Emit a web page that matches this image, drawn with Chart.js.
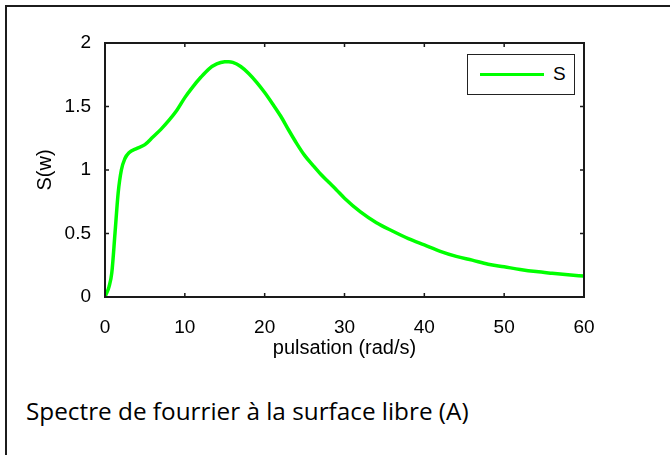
<!DOCTYPE html>
<html>
<head>
<meta charset="utf-8">
<script src="https://cdn.jsdelivr.net/npm/chart.js@4/dist/chart.umd.min.js"></script>
<style>
  html, body { margin: 0; padding: 0; background: #fff; }
  #wrap { position: relative; width: 670px; height: 455px; overflow: hidden; background: #fff; }
  #frame { position: absolute; left: 5px; top: 5px; width: 700px; height: 500px; border-top: 2px solid #1c1c1c; border-left: 2px solid #1c1c1c; }
  #plot { position: absolute; left: 0; top: 0; }
  #legend { position: absolute; left: 467px; top: 54px; width: 108px; height: 41px; box-sizing: border-box;
    border: 1.5px solid #222; background: #fff; font-family: "Liberation Sans", Arial, sans-serif; font-size: 19px; color: #000; }
  #legend .swatch { position: absolute; left: 12px; top: 18px; width: 64px; height: 3px; background: #00ff00; }
  #legend .lbl { position: absolute; left: 85px; top: 8px; }
  #caption { position: absolute; left: 26px; top: 394px; font-family: "Open Sans", sans-serif; font-size: 24.3px; color: #000; white-space: nowrap; }
</style>
</head>
<body>
<div id="wrap">
  <div id="frame"></div>
  <canvas id="plot" width="670" height="380"></canvas>
  <div id="legend"><span class="swatch"></span><span class="lbl">S</span></div>
  <div id="caption">Spectre de fourrier à la surface libre (A)</div>
</div>
<script>
/* Spectre S(w) en fonction de la pulsation */

const pulsation = [0, 0.2, 0.5, 0.85, 1.25, 1.65, 2.05, 2.5, 3, 4, 5, 6, 7, 8, 9, 10, 11, 12, 13, 14, 15, 15.5, 16, 17, 18, 19, 20,
  21, 22, 23, 24, 25, 26, 27, 28, 29, 30, 32, 34, 36, 38, 40, 42, 44, 46, 48, 50, 52, 54, 56, 58, 60];
const spectre = [0, 0.03, 0.08, 0.19, 0.5, 0.82, 1.0, 1.09, 1.135, 1.17, 1.2, 1.26, 1.32, 1.39, 1.47, 1.57, 1.655, 1.73, 1.795, 1.835, 1.852, 1.853, 1.848, 1.815, 1.76, 1.69, 1.61,
  1.52, 1.425, 1.315, 1.21, 1.115, 1.04, 0.968, 0.905, 0.843, 0.778, 0.67, 0.585, 0.52, 0.46, 0.41, 0.36, 0.32, 0.29, 0.258, 0.238, 0.217, 0.2, 0.187, 0.175, 0.165];

const xTicks = [0, 10, 20, 30, 40, 50, 60];
const yTicks = [0, 0.5, 1, 1.5, 2];
const yTickLabels = ['0', '0.5', '1', '1.5', '2'];

const GREEN = '#00ff00';
const INK = '#1a1a1a';
const tickFont = { family: '"Liberation Sans", Arial, sans-serif', size: 19 };
const titleFont = { family: '"Liberation Sans", Arial, sans-serif', size: 20 };

// boîte des axes + petites graduations vers l'intérieur (style matlab)
const axesBox = {
  id: 'axesBox',
  afterDraw(chart) {
    const { ctx, chartArea: a, scales } = chart;
    const tl = 4;
    ctx.save();
    ctx.strokeStyle = INK;
    ctx.lineWidth = 1.5;
    xTicks.forEach(v => {
      const px = scales.x.getPixelForValue(v);
      ctx.beginPath();
      ctx.moveTo(px, a.bottom); ctx.lineTo(px, a.bottom - tl);
      ctx.moveTo(px, a.top); ctx.lineTo(px, a.top + tl);
      ctx.stroke();
    });
    yTicks.forEach(v => {
      const py = scales.y.getPixelForValue(v);
      ctx.beginPath();
      ctx.moveTo(a.left, py); ctx.lineTo(a.left + tl, py);
      ctx.moveTo(a.right, py); ctx.lineTo(a.right - tl, py);
      ctx.stroke();
    });
    ctx.lineWidth = 2;
    ctx.strokeRect(a.left, a.top, a.right - a.left, a.bottom - a.top);
    ctx.restore();
  }
};

new Chart(document.getElementById('plot'), {
  type: 'line',
  data: {
    datasets: [{
      label: 'S',
      data: pulsation.map((w, i) => ({ x: w, y: spectre[i] })),
      borderColor: GREEN,
      borderWidth: 3.5,
      pointRadius: 0,
      fill: false,
      cubicInterpolationMode: 'monotone'
    }]
  },
  options: {
    responsive: false,
    animation: false,
    layout: { padding: { left: 0, top: 43, right: 86, bottom: 0 } },
    plugins: { legend: { display: false }, tooltip: { enabled: false } },
    scales: {
      x: {
        type: 'linear', min: 0, max: 60,
        grid: { display: false }, border: { display: false },
        afterBuildTicks: s => { s.ticks = xTicks.map(v => ({ value: v })); },
        afterFit: s => { s.height = 83; },
        ticks: { color: '#000', font: tickFont, padding: 11, maxRotation: 0 },
        title: { display: true, text: 'pulsation (rad/s)', color: '#000', font: titleFont, padding: { top: 0, bottom: 20 } }
      },
      y: {
        type: 'linear', min: 0, max: 2,
        grid: { display: false }, border: { display: false },
        afterBuildTicks: s => { s.ticks = yTicks.map(v => ({ value: v })); },
        afterFit: s => { s.width = 105; },
        ticks: { color: '#000', font: tickFont, padding: 6, callback: (v, i) => yTickLabels[i] },
        title: { display: true, text: 'S(w)', color: '#000', font: titleFont, padding: { top: 33, bottom: 0 } }
      }
    }
  },
  plugins: [axesBox]
});
</script>
</body>
</html>
